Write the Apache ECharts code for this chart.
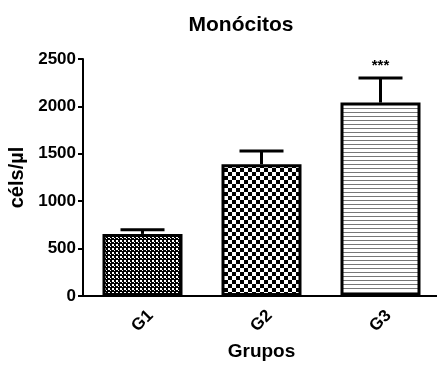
<!DOCTYPE html>
<html>
<head>
<meta charset="utf-8">
<script src="https://cdn.jsdelivr.net/npm/echarts@6/dist/echarts.min.js"></script>
<style>
  html, body { margin: 0; padding: 0; background: #fff; }
  #chart { width: 437px; height: 367px; }
</style>
</head>
<body>
<div id="chart"></div>
<script>
// Monocyte counts per group (mean and SEM), cells/µl
const groups = ['G1', 'G2', 'G3'];
const means = [655, 1390, 2040];
const sem = [45, 140, 260];
const significance = ['', '', '***'];
const yTicks = [0, 500, 1000, 1500, 2000, 2500];

// Fill patterns for the three bars
function makePattern(size, draw) {
  const c = document.createElement('canvas');
  c.width = size[0];
  c.height = size[1];
  const ctx = c.getContext('2d');
  ctx.fillStyle = '#fff';
  ctx.fillRect(0, 0, c.width, c.height);
  draw(ctx);
  return { image: c, repeat: 'repeat' };
}
const fineChecker = makePattern([4, 4], ctx => {
  ctx.fillStyle = '#000';
  ctx.fillRect(0, 0, 4, 4);
  ctx.fillStyle = '#fff';
  ctx.fillRect(0, 0, 2, 2);
  ctx.fillRect(2, 2, 1, 1);
});
const coarseChecker = makePattern([8, 8], ctx => {
  ctx.fillStyle = '#000';
  ctx.fillRect(0, 0, 4, 4);
  ctx.fillRect(4, 4, 4, 4);
});
const hLines = makePattern([4, 4], ctx => {
  ctx.fillStyle = '#777';
  ctx.fillRect(0, 0, 4, 1);
});
const fills = [fineChecker, coarseChecker, hLines];

const chart = echarts.init(document.getElementById('chart'), null, { renderer: 'canvas' });

const font = 'Arial, "Liberation Sans", Helvetica, sans-serif';

chart.setOption({
  animation: false,
  backgroundColor: '#fff',
  title: {
    text: 'Monócitos',
    left: 236,
    textAlign: 'center',
    top: 10,
    textStyle: { fontFamily: font, fontWeight: 'bold', fontSize: 21, color: '#000' }
  },
  grid: { left: 83, top: 59, width: 357, height: 237, containLabel: false, outerBoundsMode: 'none' },
  xAxis: {
    type: 'category',
    data: groups,
    name: 'Grupos',
    nameLocation: 'middle',
    nameGap: 46,
    nameTextStyle: { fontFamily: font, fontWeight: 'bold', fontSize: 19, color: '#000' },
    axisLine: { lineStyle: { color: '#000', width: 2 } },
    axisTick: { alignWithLabel: true, length: 5, lineStyle: { color: '#000', width: 2 } },
    axisLabel: {
      rotate: 45,
      align: 'center',
      verticalAlign: 'middle',
      margin: 25,
      fontFamily: font, fontWeight: 'bold', fontSize: 17, color: '#000'
    },
    splitLine: { show: false }
  },
  yAxis: {
    type: 'value',
    min: yTicks[0],
    max: yTicks[yTicks.length - 1],
    interval: 500,
    name: 'céls/µl',
    nameLocation: 'middle',
    nameGap: 52,
    nameRotate: 90,
    nameTextStyle: { fontFamily: font, fontWeight: 'bold', fontSize: 20, color: '#000' },
    axisLine: { show: true, lineStyle: { color: '#000', width: 2 } },
    axisTick: { show: true, length: 5, lineStyle: { color: '#000', width: 2 } },
    axisLabel: {
      margin: 7,
      formatter: v => String(v),
      fontFamily: font, fontWeight: 'bold', fontSize: 17, color: '#000'
    },
    splitLine: { show: false }
  },
  series: [
    {
      type: 'bar',
      barWidth: 80,
      data: means.map((v, i) => ({
        value: v,
        itemStyle: { color: fills[i], borderColor: '#000', borderWidth: 3 }
      })),
      z: 2
    },
    {
      // Upper SEM whiskers with caps, plus significance marks
      type: 'custom',
      data: means.map((v, i) => [i, v, v + sem[i], significance[i]]),
      z: 3,
      renderItem: (params, api) => {
        const x = api.coord([api.value(0), api.value(1)])[0];
        const yBase = api.coord([api.value(0), api.value(1)])[1];
        const yTop = api.coord([api.value(0), api.value(2)])[1];
        const half = 22;
        const style = { stroke: '#000', lineWidth: 3 };
        const children = [
          { type: 'line', shape: { x1: x, y1: yBase, x2: x, y2: yTop }, style },
          { type: 'line', shape: { x1: x - half, y1: yTop, x2: x + half, y2: yTop }, style }
        ];
        const mark = significance[params.dataIndex];
        if (mark) {
          children.push({
            type: 'text',
            style: {
              text: mark, x: x, y: yTop - 5,
              align: 'center', verticalAlign: 'bottom',
              font: 'bold 15px ' + font, fill: '#000'
            }
          });
        }
        return { type: 'group', children };
      }
    }
  ]
});
</script>
</body>
</html>
